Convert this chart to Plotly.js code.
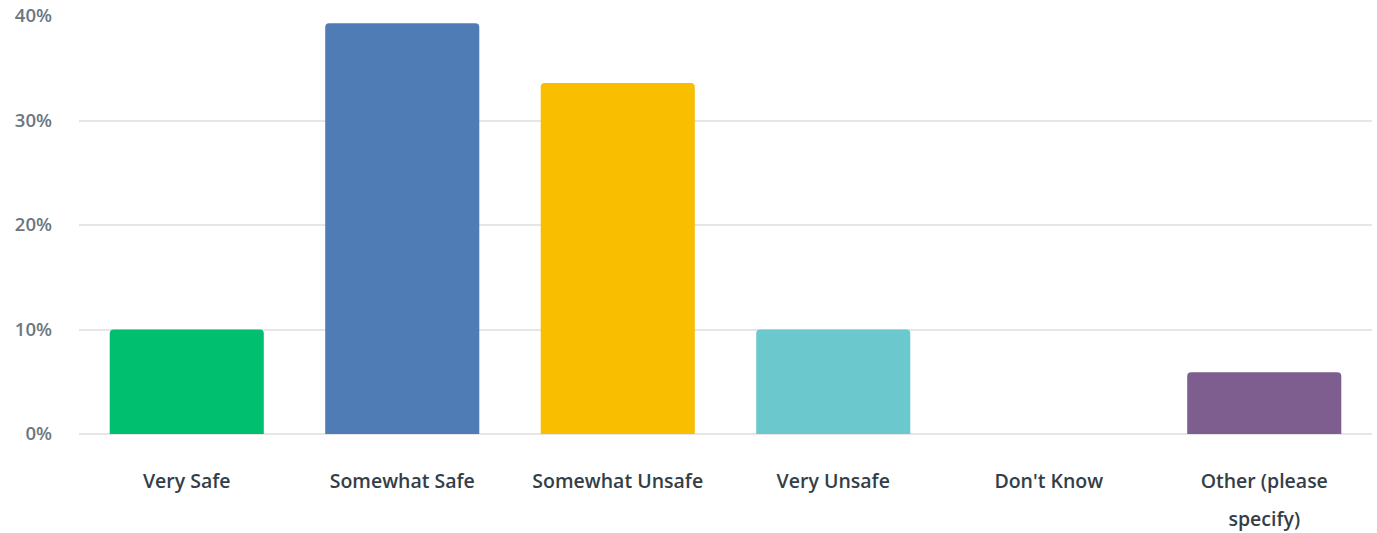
<!DOCTYPE html>
<html>
<head>
<meta charset="utf-8">
<script src="https://cdn.plot.ly/plotly-3.0.1.min.js"></script>
<style>html,body{margin:0;padding:0;background:#fff;}#chart{width:1377px;height:533px;}</style>
</head>
<body>
<div id="chart"></div>
<script>
var categories = ["Very Safe", "Somewhat Safe", "Somewhat Unsafe", "Very Unsafe", "Don't Know", "Other (please specify)"];
var tickLabelsLine1 = ["Very Safe", "Somewhat Safe", "Somewhat Unsafe", "Very Unsafe", "Don't Know", "Other (please"];
var tickLabelsLine2 = ["", "", "", "", "", "specify)"];
var percentValues = [10.0, 39.3, 33.6, 10.0, 0, 5.9];
var barColors = ["#00bf6f", "#507cb6", "#f9be00", "#6bc8cd", "#ff8b4f", "#7e5e8e"];
var yTickValues = [0, 10, 20, 30, 40];
var yTickLabels = ["0%", "10%", "20%", "30%", "40%"];

var trace = {
  type: "bar",
  x: categories,
  y: percentValues,
  marker: { color: barColors, line: { width: 0 } },
  width: 0.715,
  hoverinfo: "x+y"
};

// invisible companion trace so the second label row shares the category scale
var labelRowTrace = {
  type: "bar",
  x: categories,
  y: percentValues,
  xaxis: "x2",
  yaxis: "y",
  marker: { color: "rgba(0,0,0,0)" },
  width: 0.715,
  hoverinfo: "skip"
};

var labelFont = { size: 19.5, color: "#333e48", family: "Open Sans, sans-serif", weight: 600 };

var layout = {
  width: 1377,
  height: 533,
  margin: { l: 79, r: 5, t: 16, b: 99 },
  paper_bgcolor: "#ffffff",
  plot_bgcolor: "#ffffff",
  showlegend: false,
  barmode: "overlay",
  barcornerradius: 4,
  font: { family: "Open Sans, sans-serif" },
  xaxis: {
    type: "category",
    tickmode: "array",
    tickvals: categories,
    ticktext: tickLabelsLine1,
    ticks: "",
    ticklabelstandoff: 33,
    tickfont: labelFont,
    showgrid: false,
    showline: false,
    zeroline: false,
    fixedrange: true
  },
  xaxis2: {
    type: "category",
    overlaying: "x",
    side: "bottom",
    tickmode: "array",
    tickvals: categories,
    ticktext: tickLabelsLine2,
    ticks: "",
    ticklabelstandoff: 71,
    tickfont: labelFont,
    showgrid: false,
    showline: false,
    zeroline: false,
    fixedrange: true
  },
  yaxis: {
    range: [0, 40],
    tickmode: "array",
    tickvals: yTickValues,
    ticktext: yTickLabels,
    ticks: "",
    ticklabelstandoff: 26,
    tickfont: { size: 18.5, color: "#6b7780", family: "Open Sans, sans-serif", weight: 600 },
    showgrid: true,
    gridcolor: "#e6e6e6",
    gridwidth: 2,
    zeroline: true,
    zerolinecolor: "#e6e6e6",
    zerolinewidth: 2,
    showline: false,
    fixedrange: true
  }
};

Plotly.newPlot("chart", [labelRowTrace, trace], layout, { displayModeBar: false, staticPlot: true });
</script>
</body>
</html>
